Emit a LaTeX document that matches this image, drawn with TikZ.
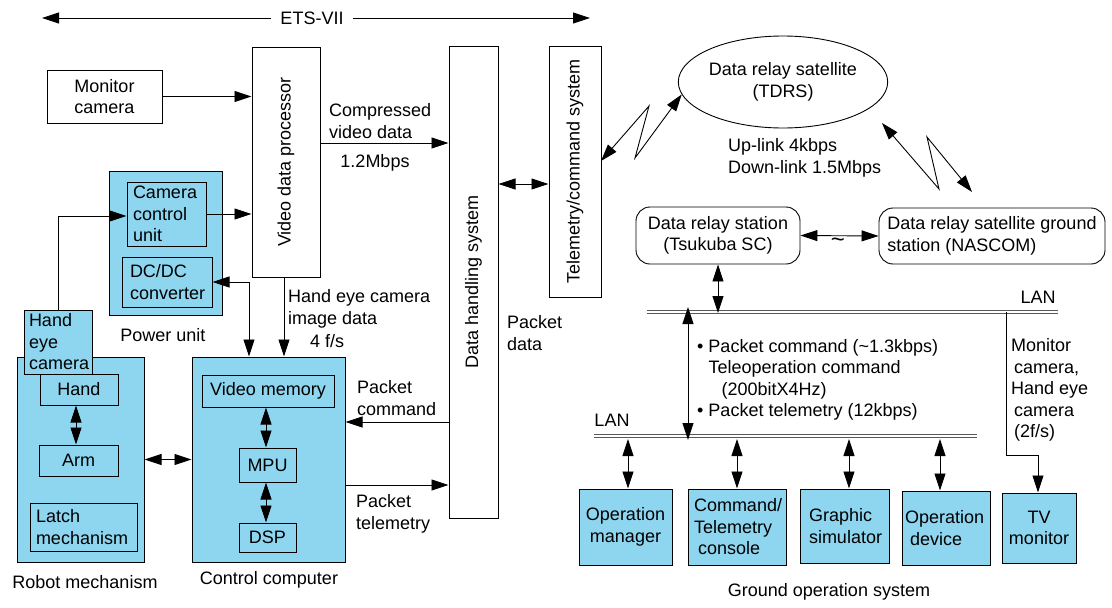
\documentclass[tikz,border=0pt]{standalone}
\usepackage{fontspec}
\setmainfont{Liberation Sans}
\usetikzlibrary{arrows.meta,shapes.geometric}
\definecolor{skyb}{RGB}{142,214,240}
\tikzset{
  box/.style={draw, line width=1pt, inner sep=0pt, align=center},
  bluebox/.style={box, fill=skyb},
  lbox/.style={align=left, inner xsep=6pt},
  tip/.tip={Triangle[length=17pt,width=11pt]},
  wire/.style={line width=0.9pt},
  ar/.style={wire, -tip},
  dar/.style={wire, tip-tip},
  lan/.style={draw=black!65, double=white, double distance=1.6pt, line width=0.8pt},
  txt/.style={inner sep=0pt, align=left, anchor=west},
}
\begin{document}
\begin{tikzpicture}[x=1pt, y=-1pt, font=\fontsize{18}{21.5}\selectfont]
\useasboundingbox (0,0) rectangle (1112,608);

% ---- ETS-VII extent ----
\node[fill=white, inner xsep=9pt] (ets) at (312,18) {ETS-VII};
\coordinate (etsL) at (42,18);
\coordinate (etsR) at (590,18);
\draw[ar] (ets.west) -- (etsL);
\draw[ar] (ets.east) -- (etsR);

% ---- on-board units ----
\node[box, minimum width=115pt, minimum height=53pt] (mon) at (104.5,96.5) {Monitor\\camera};
\node[box, minimum width=68pt, minimum height=230pt] (vdp) at (286,162) {};
\node[rotate=90] (vdpT) at (vdp) {Video data processor};
\node[box, minimum width=49pt, minimum height=472pt] (dhs) at (473.5,282) {};
\node[rotate=90] (dhsT) at (dhs) {Data handling system};
\node[box, minimum width=52pt, minimum height=251pt] (tcs) at (575,171.5) {};
\node[rotate=90] (tcsT) at (tcs) {Telemetry/command system};

% power unit
\node[bluebox, minimum width=113pt, minimum height=144pt] (pwr) at (165.5,243) {};
\node[bluebox, lbox, text width=67pt, minimum height=64pt] (ccu) at (166.5,214) {Camera\\control\\unit};
\node[bluebox, lbox, inner xsep=8pt, text width=74pt, minimum height=50pt] (dcdc) at (167,282) {DC/DC\\converter};
\node (pwrT) at (163,335) {Power unit};

% robot mechanism
\node[bluebox, minimum width=127pt, minimum height=205pt] (rob) at (80.5,459.5) {};
\node[bluebox, minimum width=78pt, minimum height=31pt] (hand) at (79,389.5) {Hand};
\node[bluebox, minimum width=79pt, minimum height=31pt] (arm) at (78.5,460.5) {Arm};
\node[bluebox, lbox, text width=95pt, minimum height=48pt] (latch) at (83.5,527) {Latch\\mechanism};
\node[bluebox, lbox, inner xsep=5pt, text width=58pt, minimum height=64pt] (hec) at (58,342) {Hand\\eye\\camera};
\node (robT) at (85,582) {Robot mechanism};

% control computer
\node[bluebox, minimum width=153pt, minimum height=205pt] (cc) at (268.5,459.5) {};
\node[bluebox, minimum width=132pt, minimum height=32pt] (vmem) at (268,391) {Video memory};
\node[bluebox, minimum width=57pt, minimum height=34pt] (mpu) at (267.5,465) {MPU};
\node[bluebox, minimum width=57pt, minimum height=29pt] (dsp) at (267.5,537.5) {DSP};
\node (ccT) at (269,580) {Control computer};

% ---- on-board connections ----
\draw[ar] (mon.east) -- (mon.east -| vdp.west);
\coordinate (cvd) at (0,143);
\draw[ar] (vdp.east |- cvd) -- (dhs.west |- cvd);
\node[txt] (cvdT) at (329,121) {Compressed\\video data};
\node (rateT) at (375,163) {1.2Mbps};

\draw[ar] (ccu.east) -- (ccu.east -| vdp.west);
\coordinate (hecY) at (0,216);
\draw[ar] (hec.north) |- (ccu.west |- hecY);

\coordinate (dcx) at (249,0);
\draw[dar] (dcdc.east) -| (dcx |- cc.north);
\coordinate (hex) at (284,0);
\draw[ar] (hex |- vdp.south) -- (hex |- cc.north);
\node[txt] (hexT) at (288,309) {Hand eye camera\\image data};
\node[txt] (fpsT) at (310,341) {4 f/s};

\coordinate (hax) at (76,0);
\draw[dar] (hax |- hand.south) -- (hax |- arm.north);
\draw[dar] (rob.east) -- (cc.west);
\coordinate (mx) at (266,0);
\draw[dar] (mx |- vmem.south) -- (mx |- mpu.north);
\draw[dar] (mx |- mpu.south) -- (mx |- dsp.north);

\coordinate (pcY) at (0,422);
\draw[ar] (dhs.west |- pcY) -- (cc.east |- pcY);
\node[txt] (pcT) at (357,398) {Packet\\command};
\coordinate (ptY) at (0,485);
\draw[ar] (cc.east |- ptY) -- (dhs.west |- ptY);
\node[txt] (ptT) at (356,514) {Packet\\telemetry};

\coordinate (pdY) at (0,184);
\draw[dar] (dhs.east |- pdY) -- (tcs.west |- pdY);
\node[txt] (pdT) at (507,333) {Packet\\data};

% ---- relay satellite ----
\node[draw, line width=0.9pt, ellipse, minimum width=196pt, minimum height=92pt, inner sep=0pt, align=center] (tdrs) at (783,82) {Data relay satellite\\(TDRS)};
\coordinate (tcsZ) at (601,161);
\draw[wire, tip-tip] (tcsZ) -- (649,106) -- (635,158) -- (tdrs.187);
\coordinate (zA) at (882,123);
\coordinate (zB) at (972,192);
\draw[wire, tip-tip] (zA) -- (939,189) -- (927,137) -- (zB);
\node[txt] (linkT) at (728,158) {Up-link 4kbps\\Down-link 1.5Mbps};

% ---- ground stations ----
\node[box, line width=0.9pt, rounded corners=14pt, minimum width=164pt, minimum height=57pt] (drs) at (718,235.5) {Data relay station\\(Tsukuba SC)};
\node[box, line width=0.9pt, rounded corners=14pt, minimum width=226pt, minimum height=56pt, align=left] (nas) at (992,236) {Data relay satellite ground\\station (NASCOM)};
\draw[dar] (drs.east) -- (nas.west);
\node[font=\fontsize{24}{24}\selectfont] (tilde) at (838,243) {\textasciitilde};

% LANs
\coordinate (lan1L) at (647,312);
\coordinate (lan1R) at (1058,312);
\draw[lan] (lan1L) -- (lan1R);
\node (lan1T) at (1038,297) {LAN};
\draw[dar] (drs.south) -- ([yshift=-1pt]drs.south |- lan1L);

\coordinate (lan2L) at (594,436);
\coordinate (lan2R) at (977,436);
\draw[lan] (lan2L) -- (lan2R);
\node (lan2T) at (612,420) {LAN};

\coordinate (tx) at (688,0);
\draw[dar] ([yshift=5pt]tx |- lan1L) -- ([yshift=-4pt]tx |- lan2L);
\node[txt] (trafT) at (697,380) {\textbullet\ Packet command (\textasciitilde1.3kbps)\\
\hphantom{\textbullet\ }Teleoperation command\\
\hphantom{\textbullet\ }\hspace{13pt}(200bitX4Hz)\\
\textbullet\ Packet telemetry (12kbps)};

% ground operation system
\node[bluebox, minimum width=93pt, minimum height=76pt] (om) at (625.5,527) {Operation\\manager};
\node[bluebox, lbox, text width=86pt, minimum height=76pt] (ctc) at (737,527) {Command/\\Telemetry\\\hspace{4pt}console};
\node[bluebox, lbox, inner xsep=9pt, text width=71pt, minimum height=74pt] (gs) at (844.5,526) {Graphic\\simulator};
\node[bluebox, lbox, inner xsep=3pt, text width=82pt, minimum height=74pt] (od) at (946,528) {Operation\\\hspace{5pt}device};
\node[bluebox, minimum width=74pt, minimum height=70pt] (tv) at (1039,528) {TV\\monitor};
\node (gosT) at (829,592) {Ground operation system};

\foreach \n/\x in {om/628, ctc/737, gs/849, od/940}{
  \coordinate (c\n) at (\x,0);
  \draw[dar] ([yshift=-3pt]c\n |- lan2L) -- (c\n |- \n.north);
}

\coordinate (mtop) at (1006,312);
\coordinate (mbend) at (1038,455);
\draw[wire] (mtop) |- (mbend);
\draw[ar] (mbend) -- (mbend |- tv.north);
\node[txt] (monT) at (1011,390) {Monitor\\\hspace{3pt}camera,\\Hand eye\\\hspace{3pt}camera\\\hspace{3pt}(2f/s)};
\end{tikzpicture}
\end{document}
